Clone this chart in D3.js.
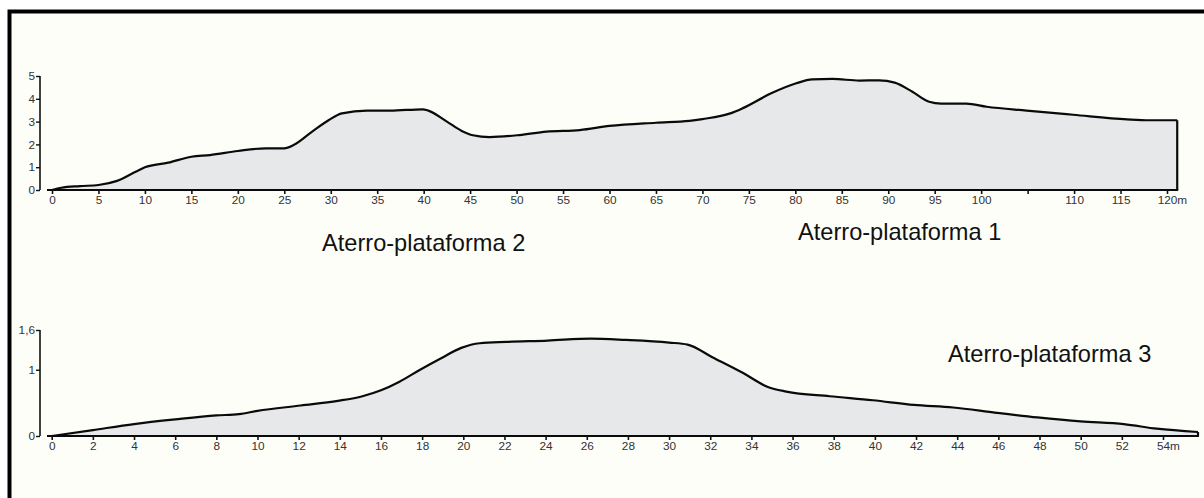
<!DOCTYPE html>
<html><head><meta charset="utf-8">
<script src="https://cdn.jsdelivr.net/npm/d3@7/dist/d3.min.js"></script>
<style>
html,body{margin:0;padding:0;background:#fff;}
svg{display:block;}
</style>
</head><body>
<svg id="c" width="1204" height="498"></svg>
<script>
// Profile 1 (top): distance (m) and height (m)
const topDist = [0,1,3,5,7,9,10,12.5,15,17,20,23,25,26,28,29.8,31.2,33.9,36.4,39.9,40.5,42.5,44.1,45.3,47.1,50.3,53.2,56.8,60,65,68.6,70,73,74.3,77.4,80.1,81.8,84,86.9,89,90.7,92.6,94.4,95.7,98.4,100.6,104.9,109.9,115.7,118.1,121.1];
const topHeight = [0,0.1,0.17,0.22,0.4,0.8,1.0,1.2,1.46,1.53,1.71,1.83,1.83,1.97,2.56,3.07,3.36,3.48,3.48,3.54,3.48,3.0,2.59,2.4,2.32,2.41,2.56,2.63,2.81,2.95,3.03,3.11,3.36,3.58,4.24,4.68,4.85,4.87,4.8,4.81,4.71,4.31,3.87,3.79,3.79,3.65,3.48,3.3,3.1,3.06,3.06];
const topXTicks = [0,5,10,15,20,25,30,35,40,45,50,55,60,65,70,75,80,85,90,95,100,105,110,115,120];
const topXLabels = ["0","5","10","15","20","25","30","35","40","45","50","55","60","65","70","75","80","85","90","95","100","","110","115","120m"];
const topYTicks = [0,1,2,3,4,5];
const topYLabels = ["0","1","2","3","4","5"];

// Profile 2 (bottom)
const botDist = [0,2,4,6,8,9.1,10,12.1,13.9,15.1,16,16.9,17.9,18.9,19.9,20.8,22.1,24.1,26.2,27.9,30,30.9,32.1,33.6,34.8,35.7,37.8,39.9,41.9,43.8,45.9,47.9,50,52.1,53.7,55.7];
const botHeight = [0,0.09,0.18,0.25,0.31,0.33,0.38,0.46,0.53,0.6,0.69,0.82,1.0,1.17,1.33,1.40,1.42,1.44,1.47,1.45,1.41,1.38,1.19,0.95,0.74,0.67,0.60,0.54,0.47,0.43,0.35,0.28,0.22,0.18,0.11,0.06];
const botXTicks = d3.range(0,55,2);
const botXLabels = botXTicks.map(v => v===54 ? "54m" : String(v));
const botYTicks = [0,1,1.6];
const botYLabels = ["0","1","1,6"];

const titles = ["Aterro-plataforma 2","Aterro-plataforma 1","Aterro-plataforma 3"];

const svg = d3.select("#c");
svg.append("rect").attr("x",0).attr("y",0).attr("width",1204).attr("height",498).attr("fill","#fff");
svg.append("rect").attr("x",9.5).attr("y",11.5).attr("width",1204).attr("height",498).attr("fill","#fefef9").attr("stroke","#000").attr("stroke-width",4);

const FONT = "'Liberation Sans', Arial, sans-serif";

function profile(cfg){
  const x = d3.scaleLinear().domain(cfg.xDomain).range(cfg.xRange);
  const y = d3.scaleLinear().domain(cfg.yDomain).range(cfg.yRange);
  const g = svg.append("g");
  const pts = cfg.dist.map((d,i)=>[d,cfg.h[i]]);
  const curve = d3.curveMonotoneX;
  g.append("path").datum(pts)
    .attr("d", d3.area().x(d=>x(d[0])).y0(y(0)).y1(d=>y(d[1])).curve(curve))
    .attr("fill","#e6e8ea");
  g.append("path").datum(pts)
    .attr("d", d3.line().x(d=>x(d[0])).y(d=>y(d[1])).curve(curve))
    .attr("fill","none").attr("stroke","#0a0a0a").attr("stroke-width",2.2).attr("stroke-linejoin","round");
  const last = pts[pts.length-1];
  g.append("path").datum([last,[last[0],0]])
    .attr("d", d3.line().x(d=>x(d[0])).y(d=>y(d[1])))
    .attr("fill","none").attr("stroke","#0a0a0a").attr("stroke-width",2.2);
  // x axis baseline
  g.append("line").attr("x1",cfg.baseStart).attr("x2",x(last[0])+1).attr("y1",y(0)).attr("y2",y(0))
    .attr("stroke","#0a0a0a").attr("stroke-width",2.2);
  const xa = d3.axisBottom(x).tickValues(cfg.xTicks).tickSize(4).tickPadding(2)
    .tickFormat((d,i)=>cfg.xLabels[i]);
  const xg = g.append("g").attr("transform",`translate(0,${y(0)})`).call(xa);
  xg.select(".domain").remove();
  xg.selectAll(".tick line").attr("stroke","#111").attr("stroke-width",1.6);
  xg.selectAll(".tick text").attr("font-family",FONT).attr("font-size",11.8).attr("fill","#333");
  xg.selectAll(".tick text").each(function(d,i){
    const lab = cfg.xLabels[i];
    if(lab.endsWith("m")){
      const t = d3.select(this);
      t.text(lab.slice(0,-1));
      const w = this.getComputedTextLength();
      t.text(lab).attr("text-anchor","start").attr("x",-w/2);
    }
  });
  const ya = d3.axisLeft(y).tickValues(cfg.yTicks).tickSize(4).tickPadding(1)
    .tickFormat((d,i)=>cfg.yLabels[i]);
  const yg = g.append("g").attr("transform",`translate(${cfg.yAxisX},0)`).call(ya);
  yg.select(".domain").attr("stroke","#111").attr("stroke-width",1.6).attr("d",`M0,${y(cfg.yDomain[1])}V${y(0)}`);
  yg.selectAll(".tick line").attr("stroke","#111").attr("stroke-width",1.4);
  yg.selectAll(".tick text").attr("font-family",FONT).attr("font-size",11.8).attr("fill","#333");
}

profile({dist:topDist,h:topHeight,xDomain:[0,120],xRange:[52,1167],yDomain:[0,5],yRange:[190,76],
  xTicks:topXTicks,xLabels:topXLabels,yTicks:topYTicks,yLabels:topYLabels,yAxisX:40,baseStart:47});
profile({dist:botDist,h:botHeight,xDomain:[0,54],xRange:[51.7,1163],yDomain:[0,1.6],yRange:[436,330],
  xTicks:botXTicks,xLabels:botXLabels,yTicks:botYTicks,yLabels:botYLabels,yAxisX:40,baseStart:47});

const titlePos = [[322,251],[798,240],[948,362]];
titles.forEach((t,i)=>{
  svg.append("text").attr("x",titlePos[i][0]).attr("y",titlePos[i][1])
    .attr("font-family",FONT).attr("font-size",23.6).attr("fill","#111").text(t);
});
</script>
</body></html>
